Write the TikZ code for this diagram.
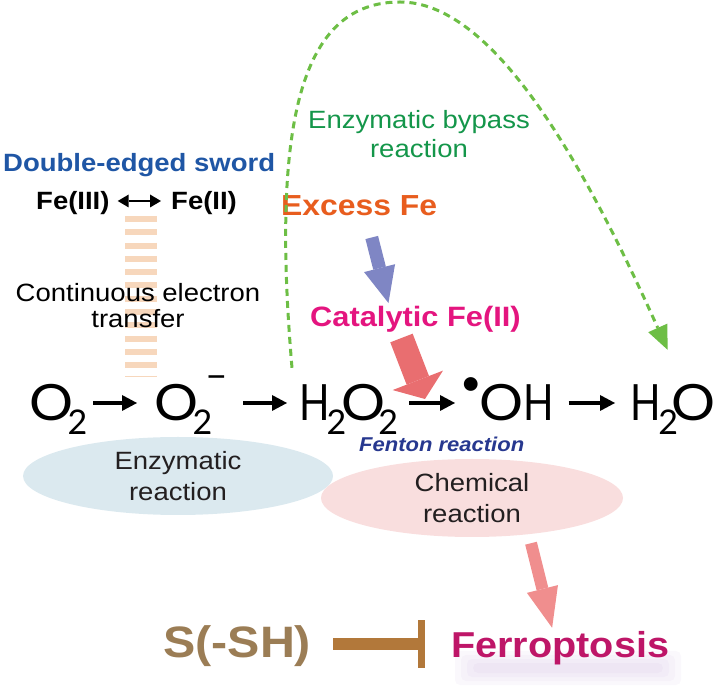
\documentclass[tikz,border=0pt]{standalone}
\usepackage{fontspec}
\setmainfont{Liberation Sans}[FakeStretch=1.1]
\newfontfamily\chemfont{Lato}
\usetikzlibrary{arrows.meta,shapes.geometric,calc}
\definecolor{swordblue}{RGB}{31,86,165}
\definecolor{bypassgreen}{RGB}{20,150,74}
\definecolor{dashgreen}{RGB}{109,190,69}
\definecolor{excessorange}{RGB}{232,93,30}
\definecolor{catmag}{RGB}{228,21,127}
\definecolor{fentonblue}{RGB}{39,56,143}
\definecolor{enzfill}{RGB}{219,233,239}
\definecolor{chemfill}{RGB}{249,222,222}
\definecolor{stripecol}{RGB}{247,215,188}
\definecolor{bluearr}{RGB}{127,134,196}
\definecolor{redarr}{RGB}{233,110,112}
\definecolor{pinkarr}{RGB}{240,142,142}
\definecolor{sshbrown}{RGB}{155,125,85}
\definecolor{inhibbrown}{RGB}{178,120,58}
\definecolor{ferromag}{RGB}{190,22,104}
\definecolor{glowcol}{RGB}{175,140,205}
\definecolor{inktext}{RGB}{35,31,32}
\newcommand{\csub}[2]{\kern#1\raisebox{-14pt}{\fontsize{34}{34}\selectfont #2}}
\newcommand{\nH}{\scalebox{0.8}[1]{H}}
\newcommand{\wO}{\scalebox{1.1}[1]{O}}
\begin{document}
\begin{tikzpicture}[x=1pt,y=1pt,
  lab/.style={inner sep=0pt, anchor=base west},
  chemsp/.style={anchor=base west, inner sep=0pt, font=\chemfont\fontsize{50}{50}\selectfont, text height=36pt, text depth=0pt, text=black},
  rxn/.style={line width=3.5pt, -{Triangle[length=15pt,width=16pt,line width=0pt]}},
  dbl/.style={line width=2.5pt, {Triangle[length=11pt,width=13pt,line width=0pt]}-{Triangle[length=11pt,width=13pt,line width=0pt]}},
  ellipsenode/.style={ellipse, inner sep=0pt, align=center, font=\fontsize{25}{31}\selectfont, text=inktext},
  bypassline/.style={dashgreen, line width=3pt, dash pattern=on 7pt off 5pt, -{Triangle[length=24pt,width=21pt,line width=0pt]}}
]
\useasboundingbox (0,0) rectangle (715,691);

% reaction ellipses
\node[ellipsenode, fill=enzfill, minimum width=310pt, minimum height=78pt] (enz) at (178,215) {Enzymatic\\reaction};
\node[ellipsenode, fill=chemfill, minimum width=302pt, minimum height=78pt] (chem) at (472,193) {Chemical\\reaction};

% continuous electron transfer stripes
\coordinate (etop) at (141,475);
\coordinate (ebot) at (141,314);
\draw[stripecol, line width=32pt, dash pattern=on 6pt off 7.3pt] (etop) -- (ebot);

% labels
\node[lab, font=\bfseries\fontsize{25}{25}\selectfont, text=swordblue] (sword) at (3,519) {Double-edged sword};
\node[lab, font=\bfseries\fontsize{25}{25}\selectfont, text height=18pt, text depth=0pt] (fe3) at (36,481) {Fe(III)};
\node[lab, font=\bfseries\fontsize{25}{25}\selectfont, text height=18pt, text depth=0pt] (fe2) at (171,481) {Fe(II)};
\draw[dbl, shorten <=8pt, shorten >=10pt] (fe3) -- (fe2);

\node[inner sep=0pt, anchor=north, align=center, font=\fontsize{25}{26}\selectfont] (cet) at (138,407.5) {Continuous electron\\transfer};
\node[inner sep=0pt, anchor=north, align=center, font=\fontsize{25}{29}\selectfont, text=bypassgreen] (bypass) at (419,581.3) {Enzymatic bypass\\reaction};

\node[lab, font=\bfseries\fontsize{29}{29}\selectfont, text=excessorange] (excess) at (281,475) {Excess Fe};
\node[lab, font=\bfseries\fontsize{28}{28}\selectfont, text=catmag] (catal) at (310,364) {Catalytic Fe(II)};
\node[lab, font=\bfseries\itshape\fontsize{20}{20}\selectfont, text=fentonblue] (fenton) at (359,239) {Fenton reaction};

% fat arrows
\coordinate (fentonpt) at (425,292);
\draw[bluearr, line width=13pt, -{Triangle[length=36pt,width=32pt,line width=0pt]}] ($(excess.south)+(12.5,-21)$) -- ($(catal.north)+(-27,3.5)$);
\draw[redarr, line width=24pt, -{Triangle[length=20pt,width=54pt,line width=0pt]}] ($(catal.south)+(-14,-5)$) -- (fentonpt);

% reaction chain
\node[chemsp] (O2a) at (29.3,270) {\wO\csub{-6pt}{2}};
\node[chemsp] (O2b) at (154.3,270) {\wO\csub{-6pt}{2}\kern-7pt\raisebox{32pt}{\fontsize{39}{39}\selectfont –}};
\node[chemsp] (H2O2) at (299,270) {\nH\csub{-3pt}{2}\kern-5pt\wO\csub{-7pt}{2}};
\node[chemsp] (OH) at (460,270) {\raisebox{25pt}{\fontsize{37}{37}\selectfont •}\kern-2.5pt\wO\nH};
\node[chemsp] (H2O) at (630.6,270) {\nH\csub{-3pt}{2}\kern-7pt\wO};
\draw[rxn, shorten <=6pt, shorten >=17.3pt] (O2a) -- (O2b);
\draw[rxn, shorten <=15pt, shorten >=12pt] (O2b) -- (H2O2);
\draw[rxn, shorten <=11pt, shorten >=5pt] (H2O2) -- (OH);
\draw[rxn, shorten <=14.7pt, shorten >=15.6pt] (OH) -- (H2O);

% enzymatic bypass
\coordinate (bypasstop) at (400,689);
\draw[bypassline] ($(H2O2.north west)+(-7,17)$) .. controls (270,580) and (305,689) .. (bypasstop) .. controls (490,689) and (578,541) .. ($(H2O.north west)+(37,35)$);

% ferroptosis glow
\foreach \w/\h in {226/34,214/26,202/18,190/10}
  \fill[glowcol, opacity=0.06, rounded corners=5pt] (568-\w/2,23-\h/2) rectangle ++(\w,\h);

\node[lab, font=\bfseries\fontsize{44}{44}\selectfont, text=sshbrown, text height=32pt, text depth=6pt] (ssh) at (163,34) {S(-SH)};
\node[lab, font=\bfseries\fontsize{36}{36}\selectfont, text=ferromag, text height=32pt, text depth=6pt] (ferro) at (451,34) {Ferroptosis};

\draw[pinkarr, line width=12pt, -{Triangle[length=40pt,width=32pt,line width=0pt]}] ($(chem.south)+(59,-6)$) -- ($(ferro.north)+(-8,-3)$);
\draw[inhibbrown, line width=12pt, -{Rectangle[length=7pt,width=47pt,line width=0pt]}, shorten <=22pt, shorten >=26pt] (ssh) -- (ferro);
\end{tikzpicture}
\end{document}
